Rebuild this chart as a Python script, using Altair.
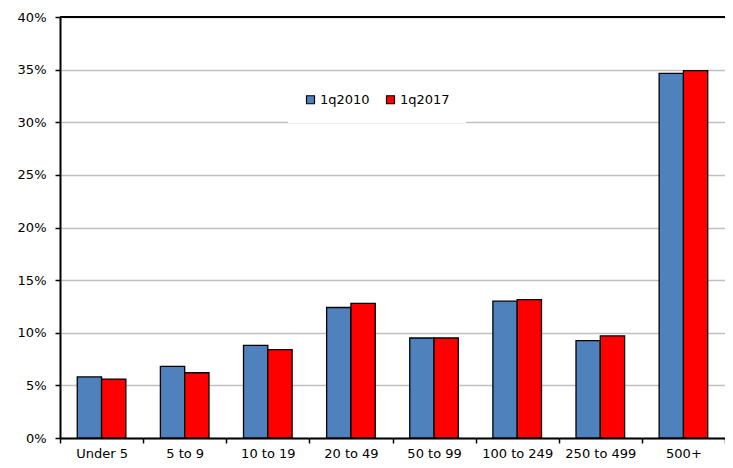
import altair as alt
import pandas as pd

categories = ["Under 5", "5 to 9", "10 to 19", "20 to 49", "50 to 99",
              "100 to 249", "250 to 499", "500+"]
series = ["1q2010", "1q2017"]
v2010 = [5.8, 6.8, 8.8, 12.4, 9.5, 13.0, 9.25, 34.65]
v2017 = [5.6, 6.2, 8.4, 12.8, 9.5, 13.15, 9.7, 34.9]
colors = ["#4F81BD", "#FF0000"]
y_ticks = [0, 0.05, 0.10, 0.15, 0.20, 0.25, 0.30, 0.35, 0.40]

rows = []
for c, a, b in zip(categories, v2010, v2017):
    rows.append({"cat": c, "series": series[0], "value": a / 100})
    rows.append({"cat": c, "series": series[1], "value": b / 100})
df = pd.DataFrame(rows)

FONT = "DejaVu Sans"

ysc = alt.Scale(domain=[0, 0.4], nice=False, zero=True)

bars = alt.Chart(df).mark_bar(stroke="black", strokeWidth=1.3).encode(
    x=alt.X("cat:N", sort=categories, title=None,
            scale=alt.Scale(paddingInner=0, paddingOuter=0),
            axis=alt.Axis(labelAngle=0, tickBand="extent", domainColor="black",
                          domainWidth=2, tickColor="black", tickWidth=1.5,
                          tickSize=5, labelPadding=4, labelFont=FONT,
                          labelFontSize=13, labelColor="black", grid=False)),
    xOffset=alt.XOffset("series:N", sort=series,
                        scale=alt.Scale(paddingInner=0, paddingOuter=0.71)),
    y=alt.Y("value:Q", scale=ysc, title=None,
            axis=alt.Axis(values=y_ticks, format=".0%", domainColor="black",
                          domainWidth=2, tickColor="black", tickWidth=1.5,
                          tickSize=5, labelPadding=9, labelFont=FONT,
                          labelFontSize=13, labelColor="black",
                          grid=True, gridColor="#C0C0C0", gridWidth=1.5)),
    color=alt.Color("series:N", sort=series,
                    scale=alt.Scale(domain=series, range=colors),
                    legend=alt.Legend(title=None, orient="none",
                                      direction="horizontal",
                                      legendX=228, legendY=60,
                                      symbolType="square", symbolSize=64,
                                      symbolStrokeColor="black",
                                      symbolStrokeWidth=1.2,
                                      fillColor="white", padding=16,
                                      labelFont=FONT, labelFontSize=13,
                                      labelColor="black", labelOffset=3,
                                      columnPadding=14)),
)

top_line = alt.Chart(pd.DataFrame({"v": [0.4]})).mark_rule(
    color="black", strokeWidth=2
).encode(y=alt.Y("v:Q", scale=ysc))

chart = alt.layer(top_line, bars).properties(
    width=665, height=421,
    autosize=alt.AutoSizeParams(type="none"),
    padding={"left": 52, "top": 9, "right": 0, "bottom": 22},
).configure_view(stroke=None).configure(background="white")

chart.save("out.html", embed_options={"renderer": "svg", "actions": False})
